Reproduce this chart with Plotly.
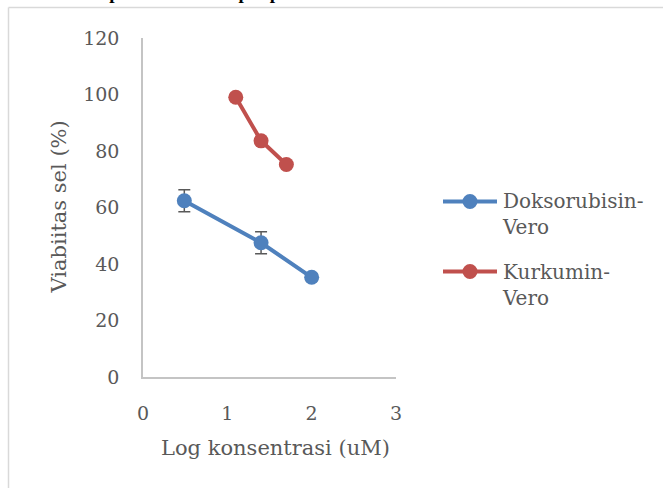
import plotly.graph_objects as go

# ---- data ----
series_names = ["Doksorubisin-Vero", "Kurkumin-Vero"]
dox_x = [0.49, 1.40, 2.00]
dox_y = [62.4, 47.5, 35.3]
dox_err = [3.9, 3.9, 1.2]
kur_x = [1.10, 1.40, 1.70]
kur_y = [99.0, 83.6, 75.2]
x_ticks = [0, 1, 2, 3]
y_ticks = [0, 20, 40, 60, 80, 100, 120]
x_title = "Log konsentrasi (uM)"
y_title = "Viabiitas sel (%)"
caption = "terhadap sel Reza terdapat pada Gambar 4."

BLUE = "#4f81bd"
RED = "#c0504d"
GREY = "#595959"
FONT = "DejaVu Serif"

W, H = 663, 488
L, R, T, B = 143, 267, 38, 111
PW, PH = W - L - R, H - T - B


def px(xp):
    return (xp - L) / PW


def py(yp):
    return (H - B - yp) / PH


fig = go.Figure()
fig.add_trace(go.Scatter(
    x=dox_x, y=dox_y, mode="lines+markers", name=series_names[0],
    line=dict(color=BLUE, width=4), marker=dict(color=BLUE, size=15),
    error_y=dict(type="data", array=dox_err, visible=True, color=GREY,
                 thickness=1.5, width=6),
))
fig.add_trace(go.Scatter(
    x=kur_x, y=kur_y, mode="lines+markers", name=series_names[1],
    line=dict(color=RED, width=4), marker=dict(color=RED, size=15),
))

axis_common = dict(showgrid=False, zeroline=False, showline=True,
                   linecolor="#c4c4c4", linewidth=1.5, ticks="",
                   tickfont=dict(family=FONT, size=19, color=GREY))
fig.update_xaxes(range=[0, 3], tickvals=x_ticks, ticklabelstandoff=18,
                 **axis_common)
fig.update_yaxes(range=[0, 120], tickvals=y_ticks, ticklabelstandoff=18,
                 **axis_common)

shapes = [
    # outer chart frame (partially visible)
    dict(type="line", xref="paper", yref="paper", x0=px(8.5), x1=px(700),
         y0=py(7.5), y1=py(7.5), line=dict(color="#d9d9d9", width=1.5)),
    dict(type="line", xref="paper", yref="paper", x0=px(8.5), x1=px(8.5),
         y0=py(7.5), y1=py(520), line=dict(color="#d9d9d9", width=1.5)),
]
annotations = [
    dict(text=x_title, xref="paper", yref="paper", x=px(275), y=py(448),
         xanchor="center", yanchor="middle", showarrow=False,
         font=dict(family=FONT, size=21, color=GREY)),
    dict(text=y_title, xref="paper", yref="paper", x=px(58), y=0.5,
         xanchor="center", yanchor="middle", textangle=-90, showarrow=False,
         font=dict(family=FONT, size=21, color=GREY)),
    dict(text="<b>" + caption + "</b>", xref="paper", yref="paper",
         x=px(404), y=py(5), xanchor="right", yanchor="bottom",
         showarrow=False,
         font=dict(family="Liberation Serif", size=19, color="black")),
]

# custom legend
legend_rows = [(201.5, BLUE, series_names[0]), (271.5, RED, series_names[1])]
for yc, col, name in legend_rows:
    shapes.append(dict(type="line", xref="paper", yref="paper",
                       x0=px(443), x1=px(497), y0=py(yc), y1=py(yc),
                       line=dict(color=col, width=4)))
    shapes.append(dict(type="circle", xref="paper", yref="paper",
                       xsizemode="pixel", ysizemode="pixel",
                       xanchor=px(470), yanchor=py(yc),
                       x0=-7.5, x1=7.5, y0=-7.5, y1=7.5,
                       fillcolor=col, line=dict(color=col, width=0)))
    first, second = name.split("-", 1)
    annotations.append(dict(
        text=first + "-<br>" + second, xref="paper", yref="paper",
        x=px(500), y=py(yc - 14), xanchor="left", yanchor="top",
        align="left", showarrow=False,
        font=dict(family=FONT, size=20, color=GREY)))

fig.update_layout(
    width=W, height=H, margin=dict(l=L, r=R, t=T, b=B, autoexpand=False),
    paper_bgcolor="white", plot_bgcolor="white", showlegend=False,
    shapes=shapes, annotations=annotations,
)

fig.write_html("out.html",
               config={"displayModeBar": False},
               post_script="document.body.style.margin='0';"
                           "document.body.style.overflow='hidden';")
